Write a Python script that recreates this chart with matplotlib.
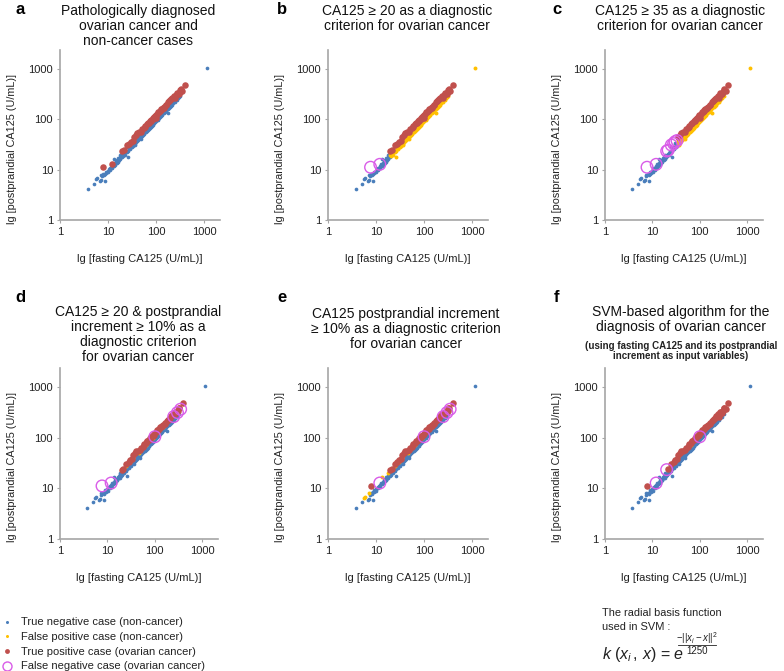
import matplotlib
matplotlib.use("Agg")
import matplotlib.pyplot as plt
from matplotlib.lines import Line2D

# --- DATA (U/mL) ---
# non-cancer cases: fasting / postprandial CA125
noncancer_fasting = [3.8, 5.0, 5.5, 5.8, 6.8, 7.0, 7.2, 7.5, 8.0, 8.3, 8.5, 8.8, 9.0, 9.5,
                     10, 10.5, 11, 11.5, 12, 12.5, 13, 13.5, 14, 14.5, 15, 15.5, 16, 16.5,
                     17, 17.5, 18, 18.5, 19, 20, 21, 22, 23, 24, 25, 26, 27, 28, 29, 30,
                     30, 31, 32, 34, 35, 35, 36, 38, 40, 42, 44, 46, 46, 48, 50, 52, 55,
                     58, 60, 62, 65, 68, 70, 72, 75, 78, 80, 80, 85, 88, 90, 95, 100, 105,
                     110, 115, 115, 120, 125, 130, 140, 150, 160, 170, 180, 190, 200, 210,
                     210, 220, 240, 260, 280, 300, 1150,
                     9.2, 10.2, 11.2, 12.2, 13.2, 14.2, 15.2, 16.2, 17.2, 18.2, 19.5, 20.5,
                     22.5, 24.5, 26.5, 28.5, 31, 33, 37, 39, 41, 43, 45, 47, 49, 51, 54, 57,
                     61, 64, 67, 71, 74, 77, 82, 86, 92, 97, 102, 108, 112, 118, 122, 128,
                     135, 145, 155, 165, 175, 185, 195, 205, 215, 230, 250, 270, 290, 320,
                     36, 56, 76, 96, 135, 175, 240, 18, 25, 52, 90, 150]
noncancer_post = [4.1, 5.3, 6.6, 6.7, 6.0, 6.2, 8.0, 7.4, 8.2, 7.8, 6.0, 8.4, 9.2, 9.0,
                  9.6, 10.2, 10.8, 11.0, 11.6, 12.8, 12.2, 16.5, 13.5, 14.8, 14.2, 15.6, 15.0, 17.0,
                  16.4, 17.8, 17.2, 19.0, 18.2, 19.5, 20.2, 21.8, 22.0, 23.5, 24.0, 17.8, 26.5, 27.0, 28.5, 28.8,
                  33.5, 32.5, 31.0, 32.8, 34.0, 39.5, 31.0, 36.5, 38.5, 41.0, 45.0, 43.0, 51.0, 40.0, 48.5, 50.0, 53.0,
                  56.0, 58.5, 60.0, 72.0, 65.0, 67.0, 70.5, 72.0, 76.0, 77.0, 89.0, 82.0, 86.0, 87.0, 92.0, 96.0, 101,
                  106, 112, 128, 116, 121, 125, 135, 144, 155, 165, 134, 182, 192, 202,
                  235, 212, 230, 250, 270, 285, 1050,
                  8.5, 9.0, 10.0, 10.8, 12.0, 12.6, 13.8, 14.5, 15.8, 16.0, 17.5, 18.5,
                  20.0, 22.0, 24.0, 25.5, 28, 30, 33, 35.5, 37, 39, 41, 43, 44, 47, 49, 52,
                  55, 58, 61, 64, 68, 70, 75, 79, 84, 88, 93, 98, 102, 107, 112, 117,
                  122, 132, 140, 150, 160, 168, 178, 185, 195, 208, 225, 245, 262, 290,
                  37.5, 58, 80, 101, 142, 183, 250, 20, 28, 58, 100, 167]

# ovarian cancer cases
cancer_fasting = [7.7, 12, 20, 21.5, 25, 28, 30, 33, 40, 44, 48, 55, 60, 65, 70, 75, 80,
                  85, 90, 95, 100, 105, 110, 120, 130, 140, 150, 165, 180, 200, 220, 250,
                  260, 280, 300, 310, 350, 400,
                  35, 38, 50, 58, 68, 78, 88, 98, 115, 125, 135, 145, 160, 190, 210, 240,
                  270, 320, 330]
cancer_post = [11.2, 12.8, 23.5, 24.5, 31, 33, 36, 38, 54, 56, 57, 66, 75, 80, 86, 92, 97,
               102, 110, 116, 105, 128, 140, 150, 160, 168, 178, 196, 220, 240, 265, 262,
               300, 320, 315, 345, 368, 490,
               45, 49, 64, 72, 85, 95, 107, 120, 143, 152, 163, 172, 190, 230, 252, 290,
               330, 380, 395]

# SVM result (panel f): misclassified cases, given as (fasting, postprandial)
svm_false_pos = [(30, 33.5), (65, 72.0), (52, 58)]
svm_false_neg = [(12, 12.8), (20, 23.5), (100, 105)]

titles = {
    "a": "Pathologically diagnosed\novarian cancer and\nnon-cancer cases",
    "b": "CA125 \u2265 20 as a diagnostic\ncriterion for ovarian cancer",
    "c": "CA125 \u2265 35 as a diagnostic\ncriterion for ovarian cancer",
    "d": "CA125 \u2265 20 & postprandial\nincrement \u2265 10% as a\ndiagnostic criterion\nfor ovarian cancer",
    "e": "CA125 postprandial increment\n\u2265 10% as a diagnostic criterion\nfor ovarian cancer",
    "f": "SVM-based algorithm for the\ndiagnosis of ovarian cancer",
}
tick_vals = [1, 10, 100, 1000]
tick_labels = ["1", "10", "100", "1000"]

legend_labels = ["True negative case (non-cancer)", "False positive case (non-cancer)",
                 "True positive case (ovarian cancer)", "False negative case (ovarian cancer)"]

# --- STYLE ---
C_TN = "#4a7ebb"
C_FP = "#ffc000"
C_TP = "#c0504d"
C_FN = "#d95ce8"
GREY = "#a6a6a6"
TXT = "#222222"

plt.rcParams["font.family"] = ["Liberation Sans", "DejaVu Sans"]
plt.rcParams["mathtext.fontset"] = "custom"
plt.rcParams["mathtext.rm"] = "Liberation Sans"
plt.rcParams["mathtext.it"] = "Liberation Sans:italic"

W, H = 784, 671
fig = plt.figure(figsize=(W / 100, H / 100), dpi=100)


def px_axes(x0, y0, x1, y1):
    return fig.add_axes([x0 / W, 1 - y1 / H, (x1 - x0) / W, (y1 - y0) / H])


def criterion(key, f, p, cancer):
    if key == "a":
        return cancer
    if key == "b":
        return f >= 20
    if key == "c":
        return f >= 35
    if key == "d":
        return f >= 20 and p / f >= 1.1
    if key == "e":
        return p / f >= 1.1
    # panel f: SVM
    if cancer:
        return (f, p) not in svm_false_neg
    return (f, p) in svm_false_pos


def draw_panel(ax, key):
    groups = {"TN": ([], []), "FP": ([], []), "TP": ([], []), "FN": ([], [])}
    for f, p in zip(noncancer_fasting, noncancer_post):
        g = "FP" if criterion(key, f, p, False) else "TN"
        groups[g][0].append(f)
        groups[g][1].append(p)
    for f, p in zip(cancer_fasting, cancer_post):
        g = "TP" if criterion(key, f, p, True) else "FN"
        groups[g][0].append(f)
        groups[g][1].append(p)

    ax.scatter(*groups["TN"], s=7, color=C_TN, linewidths=0, zorder=2)
    ax.scatter(*groups["FP"], s=8, color=C_FP, linewidths=0, zorder=3)
    ax.scatter(*groups["TP"], s=22, color=C_TP, linewidths=0, zorder=4)
    ax.scatter(*groups["FN"], s=70, facecolors="none", edgecolors=C_FN, linewidths=1.0, zorder=5)

    ax.set_xscale("log")
    ax.set_yscale("log")
    ax.set_xlim(1, 2150)
    ax.set_ylim(1, 2400)
    ax.set_xticks(tick_vals)
    ax.set_xticklabels(tick_labels)
    ax.set_yticks(tick_vals)
    ax.set_yticklabels(tick_labels)
    ax.minorticks_off()
    ax.tick_params(length=2, color=GREY, labelsize=8, labelcolor=TXT, pad=3)
    for s in ["top", "right"]:
        ax.spines[s].set_visible(False)
    for s in ["left", "bottom"]:
        ax.spines[s].set_color(GREY)
        ax.spines[s].set_linewidth(1.2)
    ax.set_xlabel("lg [fasting CA125 (U/mL)]", fontsize=8, labelpad=12, color=TXT)
    ax.set_ylabel("lg [postprandial CA125 (U/mL)]", fontsize=7.8, labelpad=3, color=TXT)
    ax.yaxis.set_label_coords(-0.27, 0.42)


# axes boxes in pixels: (left, top, right, bottom)
boxes = {
    "a": (60, 50, 220, 220), "b": (328, 50, 488, 220), "c": (605, 50, 763, 220),
    "d": (60, 368, 218, 539), "e": (328, 368, 488, 539), "f": (605, 368, 763, 539),
}
label_pos = {"a": (20, 9), "b": (282, 9), "c": (557, 9),
             "d": (20, 297), "e": (282, 297), "f": (557, 297)}
title_pos = {"a": (138, 4), "b": (407, 4), "c": (680, 4),
             "d": (138, 305), "e": (406, 307), "f": (681, 305)}

for key, box in boxes.items():
    ax = px_axes(*box)
    draw_panel(ax, key)
    lx, ly = label_pos[key]
    fig.text(lx / W, 1 - ly / H, key, fontsize=12, fontweight="bold", ha="center", va="center")
    tx, ty = title_pos[key]
    fig.text(tx / W, 1 - ty / H, titles[key], fontsize=10, ha="center", va="top",
             linespacing=1.1, color="#111111")

fig.text(681 / W, 1 - 341 / H,
         "(using fasting CA125 and its postprandial\nincrement as input variables)",
         fontsize=7, fontweight="bold", ha="center", va="top", linespacing=1.0, color=TXT)

# legend
handles = [
    Line2D([], [], ls="none", marker="o", ms=2.2, mfc=C_TN, mec="none"),
    Line2D([], [], ls="none", marker="o", ms=2.2, mfc=C_FP, mec="none"),
    Line2D([], [], ls="none", marker="o", ms=3.5, mfc=C_TP, mec="none"),
    Line2D([], [], ls="none", marker="o", ms=6.5, mfc="none", mec=C_FN, mew=1.0),
]
fig.legend(handles, legend_labels, loc="upper left", bbox_to_anchor=(-0.004, 1 - 613 / H),
           frameon=False, fontsize=8, handlelength=1.0, handletextpad=0.8,
           labelspacing=0.42, borderaxespad=0, labelcolor=TXT)

# SVM kernel note
fig.text(602 / W, 1 - 613 / H, "The radial basis function", fontsize=7.9,
         ha="left", va="center", color=TXT)
fig.text(602 / W, 1 - 627 / H, "used in SVM :", fontsize=7.9,
         ha="left", va="center", color=TXT)
fig.text(602 / W, 1 - 655 / H, r"$k\ (x_{i}\, ,\, x)$ = $e$", fontsize=11.5, ha="left",
         va="center", color=TXT)
fig.text(697 / W, 1 - 638 / H, r"$-||x_{i} - x||^{2}$", fontsize=7, ha="center",
         va="center", color=TXT)
fig.add_artist(Line2D([678 / W, 716 / W], [1 - 644.5 / H, 1 - 644.5 / H], color=TXT, lw=0.6))
fig.text(697 / W, 1 - 651 / H, "1250", fontsize=7, ha="center", va="center", color=TXT)

fig.savefig("out.png", dpi=100)
